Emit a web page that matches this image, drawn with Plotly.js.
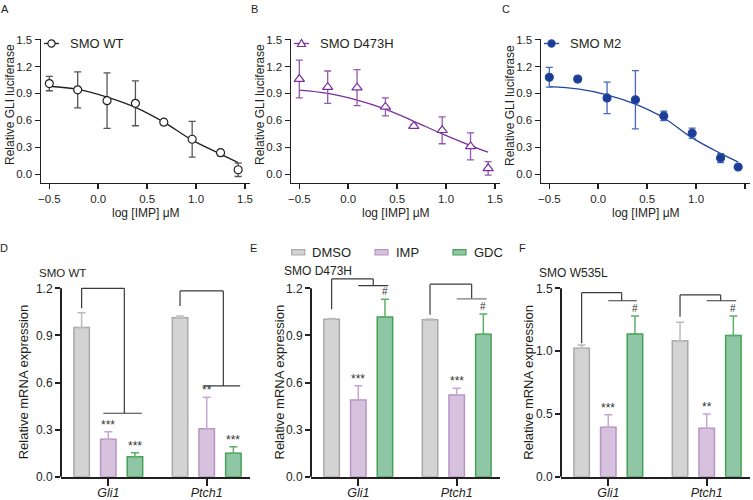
<!DOCTYPE html>
<html><head><meta charset="utf-8">
<script src="https://cdn.plot.ly/plotly-3.0.1.min.js"></script>
<style>html,body{margin:0;padding:0;background:#fff;} #chart{width:753px;height:500px;}</style>
</head><body><div id="chart"></div><script>
// ---------- data: dose-response (panels A-C) ----------
const logDose   = [-0.5, -0.21, 0.09, 0.38, 0.67, 0.96, 1.25, 1.43];
const wtMean    = [1.01, 0.94, 0.82, 0.79, 0.58, 0.39, 0.24, 0.05];
const wtSem     = [0.08, 0.20, 0.31, 0.25, 0.02, 0.20, 0.035, 0.075];
const wtFit     = [0.98, 0.945, 0.86, 0.745, 0.58, 0.38, 0.225, 0.13];
const d473hMean = [1.06, 0.97, 0.965, 0.75, 0.535, 0.49, 0.31, 0.066];
const d473hSem  = [0.21, 0.18, 0.20, 0.10, 0.02, 0.15, 0.15, 0.075];
const d473hFit  = [0.936, 0.90, 0.826, 0.726, 0.59, 0.45, 0.32, 0.247];
const m2Mean    = [1.08, 1.06, 0.85, 0.83, 0.65, 0.457, 0.18, 0.081];
const m2Sem     = [0.11, 0.03, 0.175, 0.325, 0.053, 0.057, 0.05, 0];
const m2Fit     = [0.977, 0.951, 0.885, 0.78, 0.627, 0.405, 0.232, 0.136];
const doseSeries = ['SMO WT', 'SMO D473H', 'SMO M2'];

// ---------- data: qPCR (panels D-F) ----------
const genes = ['Gli1', 'Ptch1'];
const treatments = ['DMSO', 'IMP', 'GDC'];
const wtDMSO = [0.951, 1.013],  wtDMSOErr = [0.094, 0.011];
const wtIMP  = [0.238, 0.306],  wtIMPErr  = [0.049, 0.200];
const wtGDC  = [0.127, 0.149],  wtGDCErr  = [0.026, 0.042];
const dhDMSO = [1.003, 1.000],  dhDMSOErr = [0.004, 0.004];
const dhIMP  = [0.489, 0.520],  dhIMPErr  = [0.090, 0.043];
const dhGDC  = [1.017, 0.907],  dhGDCErr  = [0.113, 0.130];
const wlDMSO = [1.022, 1.083],  wlDMSOErr = [0.027, 0.146];
const wlIMP  = [0.393, 0.385],  wlIMPErr  = [0.100, 0.115];
const wlGDC  = [1.137, 1.125],  wlGDCErr  = [0.143, 0.155];
const wtSigIMP = ['***', '**'],  wtSigGDC = ['***', '***'];
const dhSigIMP = ['***', '***'], dhSigGDC = ['#', '#'];
const wlSigIMP = ['***', '**'],  wlSigGDC = ['#', '#'];
const barTitles = ['SMO WT', 'SMO D473H', 'SMO W535L'];

// ---------- styling ----------
const W = 753, H = 500;
const fx = p => p / W, fy = p => 1 - p / H;
const FONT = '"Liberation Sans", Arial, Helvetica, sans-serif';
const INK = '#231f20';
const BARGAP = 0.187, BARGROUPGAP = 0.42;
const SLOT = (1 - BARGAP) / treatments.length;

const traces = [], shapes = [], annotations = [];
const layout = {
  width: W, height: H, margin: {l: 0, r: 0, t: 0, b: 0},
  paper_bgcolor: '#ffffff', plot_bgcolor: 'rgba(0,0,0,0)',
  showlegend: false, barmode: 'group', bargap: BARGAP, bargroupgap: BARGROUPGAP,
  font: {family: FONT, color: INK}, hovermode: false
};
function ann(o, fs, extraFont) {
  annotations.push(Object.assign({xref: 'paper', yref: 'paper', showarrow: false,
    font: Object.assign({family: FONT, size: fs || 12, color: INK}, extraFont || {})}, o));
}
function axis(o, lw, fs) {
  return Object.assign({showgrid: false, zeroline: false, showline: true, linecolor: INK, linewidth: lw,
    ticks: 'outside', ticklen: 5, tickwidth: lw, tickcolor: INK, fixedrange: true,
    tickfont: {family: FONT, size: fs, color: INK}}, o);
}
function pline(x0, y0, x1, y1, color, width) {
  shapes.push({type: 'line', xref: 'paper', yref: 'paper', x0: fx(x0), y0: fy(y0), x1: fx(x1), y1: fy(y1),
    line: {color: color, width: width}});
}

// ---------- panels A-C ----------
const TOP = {top: 39.3, bottom: 182.7, xr: [-0.585, 1.551], yr: [-0.094, 1.503]};
const topPanels = [
  {mean: wtMean, sem: wtSem, fit: wtFit, line: '#231f20', err: '#555555', symbol: 'circle', size: 8, fill: '#ffffff', left: 41, right: 250, letter: 'A', letterX: 5},
  {mean: d473hMean, sem: d473hSem, fit: d473hFit, line: '#7b2f9c', err: '#9557b0', symbol: 'triangle-up', size: 9, fill: '#ffffff', left: 291, right: 500, letter: 'B', letterX: 254.5},
  {mean: m2Mean, sem: m2Sem, fit: m2Fit, line: '#23479f', err: '#4468bd', symbol: 'circle', size: 8, fill: '#1c3d96', left: 541, right: 750, letter: 'C', letterX: 506}
];
topPanels.forEach((s, i) => {
  const n = i + 1, sfx = n === 1 ? '' : String(n);
  const xa = 'x' + sfx, ya = 'y' + sfx;
  layout['xaxis' + sfx] = axis({domain: [fx(s.left), fx(s.right)], anchor: ya, range: TOP.xr, tick0: -0.5, dtick: 0.5, tickformat: '.1f'}, 1.5, 11.5);
  layout['yaxis' + sfx] = axis({domain: [fy(TOP.bottom), fy(TOP.top)], anchor: xa, range: TOP.yr, tick0: 0, dtick: 0.3, tickformat: '.1f'}, 1.5, 11.5);
  traces.push({type: 'scatter', mode: 'lines', x: logDose, y: s.fit, xaxis: xa, yaxis: ya,
    line: {color: s.line, width: 1.3, shape: 'spline', smoothing: 1}, hoverinfo: 'skip'});
  traces.push({type: 'scatter', mode: 'markers', name: doseSeries[i], x: logDose, y: s.mean, xaxis: xa, yaxis: ya,
    marker: {symbol: s.symbol, size: s.size, color: s.fill, line: {color: s.line, width: 1.2}},
    error_y: {type: 'data', array: s.sem, visible: true, color: s.err, thickness: 1.3, width: 3.5}});
  // legend glyph
  const gy = 43.5, gx0 = s.left + 3, gx1 = s.left + 18, cx = s.left + 10.5;
  pline(gx0, gy, gx1, gy, s.line, 1.3);
  if (s.symbol === 'circle') {
    shapes.push({type: 'circle', xref: 'paper', yref: 'paper', x0: fx(cx - 3.6), x1: fx(cx + 3.6), y0: fy(gy + 3.6), y1: fy(gy - 3.6),
      fillcolor: s.fill, line: {color: s.line, width: 1.2}});
  } else {
    shapes.push({type: 'path', xref: 'paper', yref: 'paper',
      path: `M${fx(cx - 4)},${fy(gy + 3)} L${fx(cx + 4)},${fy(gy + 3)} L${fx(cx)},${fy(gy - 4)} Z`,
      fillcolor: s.fill, line: {color: s.line, width: 1.2}});
  }
  ann({x: fx(s.left + 27), y: fy(gy), xanchor: 'left', yanchor: 'middle', text: doseSeries[i]}, 13);
  ann({x: fx(s.left - 31), y: fy(105), xanchor: 'center', yanchor: 'middle', textangle: -90, text: 'Relative GLI luciferase'}, 12);
  ann({x: fx(s.left + 105), y: fy(213), xanchor: 'center', yanchor: 'middle', text: 'log [IMP] μM'}, 12);
  ann({x: fx(s.letterX), y: fy(8.5), xanchor: 'center', yanchor: 'middle', text: s.letter}, 11);
});

// ---------- panels D-F ----------
const BOT = {top: 266, bottom: 476.7, tickPx: 288.3, firstCat: 47.3, catPx: 98.4};
const fillCols = ['#d3d3d3', '#d7c2de', '#8fc6a6'];
const lineCols = ['#a9a9a9', '#b894c5', '#45a153'];
const errCols  = ['#bcbcbc', '#c6a6d1', '#5cb068'];
const barPanels = [
  {series: [wtDMSO, wtIMP, wtGDC], errs: [wtDMSOErr, wtIMPErr, wtGDCErr], sig: [null, wtSigIMP, wtSigGDC],
   left: 61, right: 250, tickVal: 1.2, dtick: 0.3, letter: 'D', letterX: 4.2, titleX: 23.3, subX: 37, subY: 273, subSize: 11.5,
   brackets: [
     {g: 0, l: -SLOT, lb: 1.073, top: 1.2, r: 0.163, rb: 0.404, lo0: -0.05, lo1: 0.34},
     {g: 1, l: -SLOT, lb: 1.088, top: 1.183, r: 0.169, rb: 0.578, lo0: -0.034, lo1: 0.34}]},
  {series: [dhDMSO, dhIMP, dhGDC], errs: [dhDMSOErr, dhIMPErr, dhGDCErr], sig: [null, dhSigIMP, dhSigGDC],
   left: 311, right: 500, tickVal: 1.2, dtick: 0.3, letter: 'E', letterX: 254, titleX: 278.5, subX: 281.7, subY: 271, subSize: 12,
   brackets: [
     {g: 0, l: -SLOT, lb: 1.067, top: 1.26, r: 0.152, rb: 1.217, lo0: 0, lo1: 0.305},
     {g: 1, l: -SLOT, lb: 1.031, top: 1.226, r: 0.152, rb: 1.133, lo0: 0, lo1: 0.305, loColor: '#7a7a7a'}]},
  {series: [wlDMSO, wlIMP, wlGDC], errs: [wlDMSOErr, wlIMPErr, wlGDCErr], sig: [null, wlSigIMP, wlSigGDC],
   left: 561, right: 750, tickVal: 1.5, dtick: 0.5, letter: 'F', letterX: 522.5, titleX: 527.7, subX: 536.7, subY: 272.7, subSize: 12,
   brackets: [
     {g: 0, l: -SLOT, lb: 1.062, top: 1.465, r: 0.136, rb: 1.401, lo0: 0, lo1: 0.29},
     {g: 1, l: -SLOT, lb: 1.274, top: 1.447, r: 0.142, rb: 1.401, lo0: 0, lo1: 0.30}]}
];
const BRK = '#3a3a3a';
barPanels.forEach((p, i) => {
  const n = i + 4, xa = 'x' + n, ya = 'y' + n;
  const yTop = p.tickVal * (BOT.bottom - BOT.top) / (BOT.bottom - BOT.tickPx);
  const xr0 = -BOT.firstCat / BOT.catPx;
  const xr1 = 1 + (p.right - (p.left + BOT.firstCat + BOT.catPx)) / BOT.catPx;
  layout['xaxis' + n] = axis({domain: [fx(p.left), fx(p.right)], anchor: ya, type: 'category', range: [xr0, xr1],
    ticklen: 7, tickwidth: 2, ticklabelstandoff: -4,
    tickfont: {family: FONT, size: 12.5, color: INK, style: 'italic'}}, 2, 12.5);
  layout['yaxis' + n] = axis({domain: [fy(BOT.bottom), fy(BOT.top)], anchor: xa, range: [0, yTop], showline: false,
    tick0: 0, dtick: p.dtick, tickformat: '.1f'}, 2, 12);
  // y axis line stops at the top tick
  shapes.push({type: 'line', xref: xa + ' domain', yref: ya + ' domain', x0: 0, x1: 0, y0: 0, y1: p.tickVal / yTop,
    line: {color: INK, width: 2}});
  p.series.forEach((vals, k) => {
    traces.push({type: 'bar', name: treatments[k], x: genes, y: vals, xaxis: xa, yaxis: ya,
      marker: {color: fillCols[k], line: {color: lineCols[k], width: 1.5}},
      error_y: {type: 'data', symmetric: false, array: p.errs[k], arrayminus: genes.map(() => 0),
        color: errCols[k], thickness: 1.5, width: 4}});
    if (p.sig[k]) {
      p.sig[k].forEach((txt, g) => {
        const isHash = txt === '#';
        annotations.push({xref: xa, yref: ya, x: g + (k - 1) * SLOT, y: vals[g] + p.errs[k][g],
          xanchor: 'center', yanchor: 'bottom', yshift: isHash ? 0 : -2, showarrow: false, text: txt,
          font: {family: FONT, size: isHash ? 10 : 12, color: '#333333'}});
      });
    }
  });
  p.brackets.forEach(b => {
    const L = b.g + b.l, R = b.g + b.r;
    const seg = (x0, y0, x1, y1, c) => shapes.push({type: 'line', xref: xa, yref: ya, x0, y0, x1, y1, line: {color: c || BRK, width: 1.2}});
    seg(L, b.lb, L, b.top);
    seg(L, b.top, R, b.top);
    seg(R, b.top, R, b.rb);
    seg(b.g + b.lo0, b.rb, b.g + b.lo1, b.rb, b.loColor);
  });
  ann({x: fx(p.titleX), y: fy(382), xanchor: 'center', yanchor: 'middle', textangle: -90, text: 'Relative mRNA expression'}, 13);
  ann({x: fx(p.subX), y: fy(p.subY), xanchor: 'left', yanchor: 'middle', text: barTitles[i]}, p.subSize);
  ann({x: fx(p.letterX), y: fy(248.3), xanchor: 'center', yanchor: 'middle', text: p.letter}, 11);
});

// shared treatment legend (above panel E)
const legX = [291.7, 375, 453];
treatments.forEach((t, k) => {
  shapes.push({type: 'rect', xref: 'paper', yref: 'paper', x0: fx(legX[k]), x1: fx(legX[k] + 13), y0: fy(255), y1: fy(249.7),
    fillcolor: fillCols[k], line: {color: lineCols[k], width: 1.2}});
  ann({x: fx(legX[k] + 18.5), y: fy(252.5), xanchor: 'left', yanchor: 'middle', text: t}, 13);
});

layout.shapes = shapes;
layout.annotations = annotations;
Plotly.newPlot('chart', traces, layout, {staticPlot: true, displayModeBar: false});
</script></body></html>
